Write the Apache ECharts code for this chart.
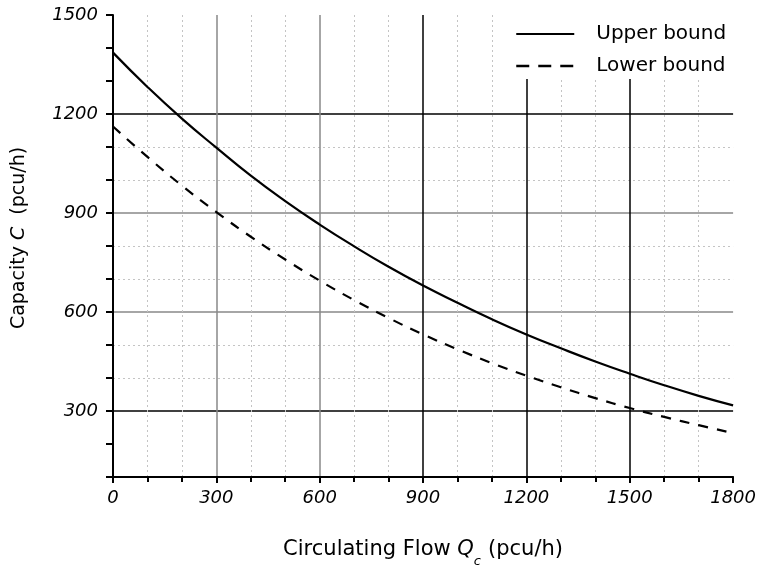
<!DOCTYPE html>
<html>
<head>
<meta charset="utf-8">
<script src="https://cdn.jsdelivr.net/npm/echarts@6/dist/echarts.min.js"></script>
<style>
    html, body { margin: 0; padding: 0; background: #fff; }
    #main { width: 759px; height: 573px; }
</style>
</head>
<body>
<div id="main"></div>
<script type="text/javascript">
    // circulating flow Qc (pcu/h)
    var flow = [0, 100, 200, 300, 400, 500, 600, 700, 800, 900, 1000, 1100, 1200, 1300, 1400, 1500, 1600, 1700, 1800];
    // capacity C (pcu/h)
    var upperBound = [1386, 1282, 1186, 1098, 1013, 936, 865, 799, 737, 680, 628, 578, 532, 490, 450, 413, 378, 346, 317];
    var lowerBound = [1162, 1070, 983, 903, 828, 759, 695, 636, 582, 532, 487, 445, 407, 372, 339, 309, 282, 257, 233];
    var seriesNames = ['Upper bound', 'Lower bound'];

    function pairs(xs, ys) {
        var out = [];
        for (var i = 0; i < xs.length; i++) {
            out.push([xs[i], ys[i]]);
        }
        return out;
    }

    var font = 'DejaVu Sans';
    var T = 'rgba(0,0,0,0)';
    var myChart = echarts.init(document.getElementById('main'));

    var option = {
        animation: false,
        backgroundColor: '#fff',
        grid: {
            left: 113,
            right: 23,
            top: 15,
            bottom: 94
        },
        legend: {
            left: 500,
            top: 4,
            orient: 'vertical',
            backgroundColor: '#fff',
            padding: [20, 20, 3, 15],
            itemWidth: 58,
            itemHeight: 20,
            itemGap: 12,
            itemStyle: { opacity: 0 },
            textStyle: {
                fontFamily: font,
                fontSize: 20,
                color: '#000',
                padding: [0, 0, 0, 17]
            },
            data: [
                { name: seriesNames[0], lineStyle: { color: '#000', width: 2, type: 'solid' } },
                { name: seriesNames[1], lineStyle: { color: '#000', width: 2.5, type: [13, 9] } }
            ]
        },
        xAxis: {
            type: 'value',
            min: 0,
            max: 1800,
            interval: 300,
            name: 'Circulating Flow {q|Q}{s|c}(pcu/h)',
            nameLocation: 'middle',
            nameGap: 55,
            nameTextStyle: {
                fontFamily: font,
                fontSize: 21,
                color: '#000',
                lineHeight: 36,
                rich: {
                    q: { fontFamily: font, fontSize: 21, fontStyle: 'italic', color: '#000', lineHeight: 36 },
                    s: { fontFamily: font, fontSize: 13, fontStyle: 'italic', color: '#000', verticalAlign: 'bottom', padding: [0, 7, 0, 0] }
                }
            },
            axisLine: { onZero: false, lineStyle: { color: '#000', width: 2 } },
            axisTick: { show: true, inside: false, length: 6, lineStyle: { color: '#000', width: 2 } },
            minorTick: { show: true, splitNumber: 3, length: 5, lineStyle: { color: '#000', width: 2 } },
            axisLabel: {
                fontFamily: font,
                fontSize: 18,
                fontStyle: 'italic',
                color: '#000',
                margin: 12,
                formatter: function (v) { return String(v); }
            },
            splitLine: {
                show: true,
                showMinLine: false,
                showMaxLine: false,
                lineStyle: { color: ['#888', '#888', '#000', '#000', '#000'], width: 1.5 }
            },
            minorSplitLine: {
                show: true,
                lineStyle: { color: '#c4c4c4', width: 1, type: [2, 3] }
            }
        },
        yAxis: [
            {
                type: 'value',
                position: 'left',
                min: 100,
                max: 1500,
                interval: 100,
                name: 'Capacity {c|C}  (pcu/h)',
                nameLocation: 'middle',
                nameGap: 84,
                nameTextStyle: {
                    fontFamily: font,
                    fontSize: 19,
                    color: '#000',
                    padding: [0, 0, 0, 16],
                    rich: {
                        c: { fontFamily: font, fontSize: 19, fontStyle: 'italic', color: '#000' }
                    }
                },
                axisLine: { onZero: false, lineStyle: { color: '#000', width: 2 } },
                axisTick: { show: true, inside: false, length: 7, lineStyle: { color: '#000', width: 2 } },
                axisLabel: {
                    fontFamily: font,
                    fontSize: 18,
                    fontStyle: 'italic',
                    color: '#000',
                    margin: 15,
                    formatter: function (v) { return v % 300 === 0 ? String(v) : ''; }
                },
                splitLine: {
                    show: true,
                    showMinLine: false,
                    showMaxLine: false,
                    lineStyle: {
                        // 200 .. 1400, dotted minor grid
                        color: [T, T, '#c4c4c4', '#c4c4c4', T, '#c4c4c4', '#c4c4c4', T, '#c4c4c4', '#c4c4c4', T, T, T],
                        width: 1,
                        type: [2, 3]
                    }
                }
            },
            {
                type: 'value',
                position: 'left',
                min: 100,
                max: 1500,
                interval: 100,
                axisLine: { show: false },
                axisTick: { show: false },
                axisLabel: { show: false },
                splitLine: {
                    show: true,
                    showMinLine: false,
                    showMaxLine: false,
                    lineStyle: {
                        // 200 .. 1400, solid major grid
                        color: [T, '#000', T, T, '#888', T, T, '#888', T, T, '#000', T, T],
                        width: 1.5
                    }
                }
            }
        ],
        series: [
            {
                name: seriesNames[0],
                type: 'line',
                yAxisIndex: 0,
                smooth: true,
                showSymbol: false,
                symbol: 'none',
                lineStyle: { color: '#000', width: 2.2, type: 'solid' },
                itemStyle: { color: '#000' },
                data: pairs(flow, upperBound)
            },
            {
                name: seriesNames[1],
                type: 'line',
                yAxisIndex: 0,
                smooth: true,
                showSymbol: false,
                symbol: 'none',
                lineStyle: { color: '#000', width: 2.2, type: [10, 9] },
                itemStyle: { color: '#000' },
                data: pairs(flow, lowerBound)
            }
        ]
    };

    myChart.setOption(option);
</script>
</body>
</html>
